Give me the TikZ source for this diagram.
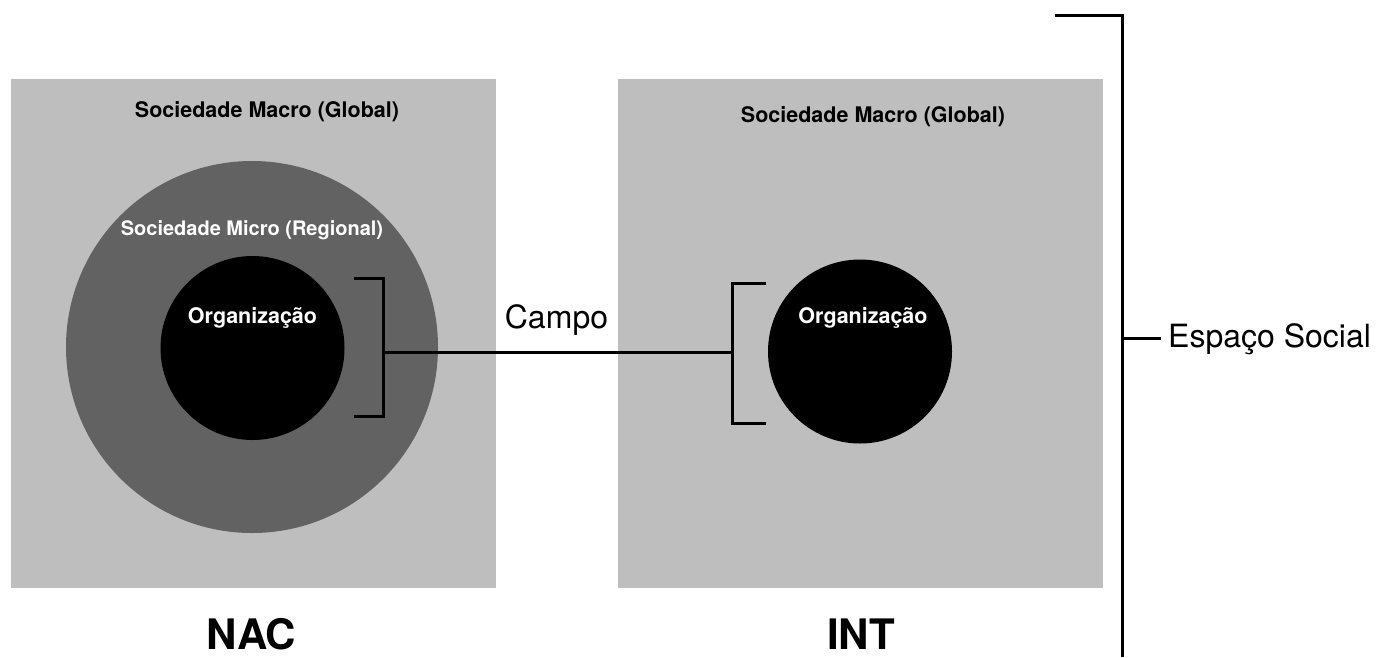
\documentclass[tikz,border=0pt]{standalone}
\usepackage{fontspec}
\setmainfont{TeX Gyre Heros}
\definecolor{macrogray}{RGB}{190,190,190}
\definecolor{microgray}{RGB}{98,98,98}
\begin{document}
\begin{tikzpicture}[x=1pt,y=-1pt]
            \tikzstyle{every node}+=[inner sep=0pt]
            \tikzstyle{macrobox}=[rectangle,fill=macrogray,minimum width=485pt,minimum height=509pt]
            \tikzstyle{orgcircle}=[circle,fill=black,minimum size=184pt]
            \tikzstyle{boldlabel}=[anchor=base,font=\bfseries\fontsize{21.5}{24}\selectfont]
            \tikzstyle{plainlabel}=[font=\fontsize{32}{36}\selectfont]
            \tikzstyle{biglabel}=[anchor=base,font=\bfseries\fontsize{42}{48}\selectfont]
            \tikzstyle{bracket}=[black,line width=3pt]
            \useasboundingbox (0,0) rectangle (1380,657);
            % left: NAC
            \node [macrobox] (nacmacro) at (253.5,333.5) {};
            \node [circle,fill=microgray,minimum size=372pt] (nacmicro) at (252,347) {};
            \node [orgcircle] (nacorg) at (252.5,348) {};
            \node [boldlabel] (nacmacrotext) at (267,117) {Sociedade Macro (Global)};
            \node [boldlabel,white,font=\bfseries\fontsize{20}{24}\selectfont] (nacmicrotext) at (252,235) {Sociedade Micro (Regional)};
            \node [boldlabel,white] (nacorgtext) at (252.5,323) {Organização};
            \node [biglabel] (nac) at (251.5,649) {NAC};
            % right: INT
            \node [macrobox] (intmacro) at (860.5,333.5) {};
            \node [orgcircle] (intorg) at (860,351.5) {};
            \node [boldlabel] (intmacrotext) at (873,122) {Sociedade Macro (Global)};
            \node [boldlabel,white] (intorgtext) at (863,323) {Organização};
            \node [biglabel] (int) at (861,649) {INT};
            % campo
            \coordinate (nacbrk) at (383,352);
            \coordinate (intbrk) at (732,352);
            \draw [bracket] (354,278) -- (383,278) -- (383,416) -- (354,416);
            \draw [bracket] (766,283) -- (732,283) -- (732,423) -- (766,423);
            \draw [bracket] (nacbrk) -- (intbrk);
            \node [plainlabel,anchor=base] (campo) at (556.5,328) {Campo};
            % espaco social
            \coordinate (socialtop) at (1122,15.5);
            \coordinate (socialmid) at (1122,338);
            \draw [bracket] (1055,15.5) -- (socialtop) -- (1122,657);
            \node [plainlabel,anchor=base west] (social) at (1168,347) {Espaço Social};
            \draw [bracket] (socialmid) -- (1161,338);
\end{tikzpicture}
\end{document}
